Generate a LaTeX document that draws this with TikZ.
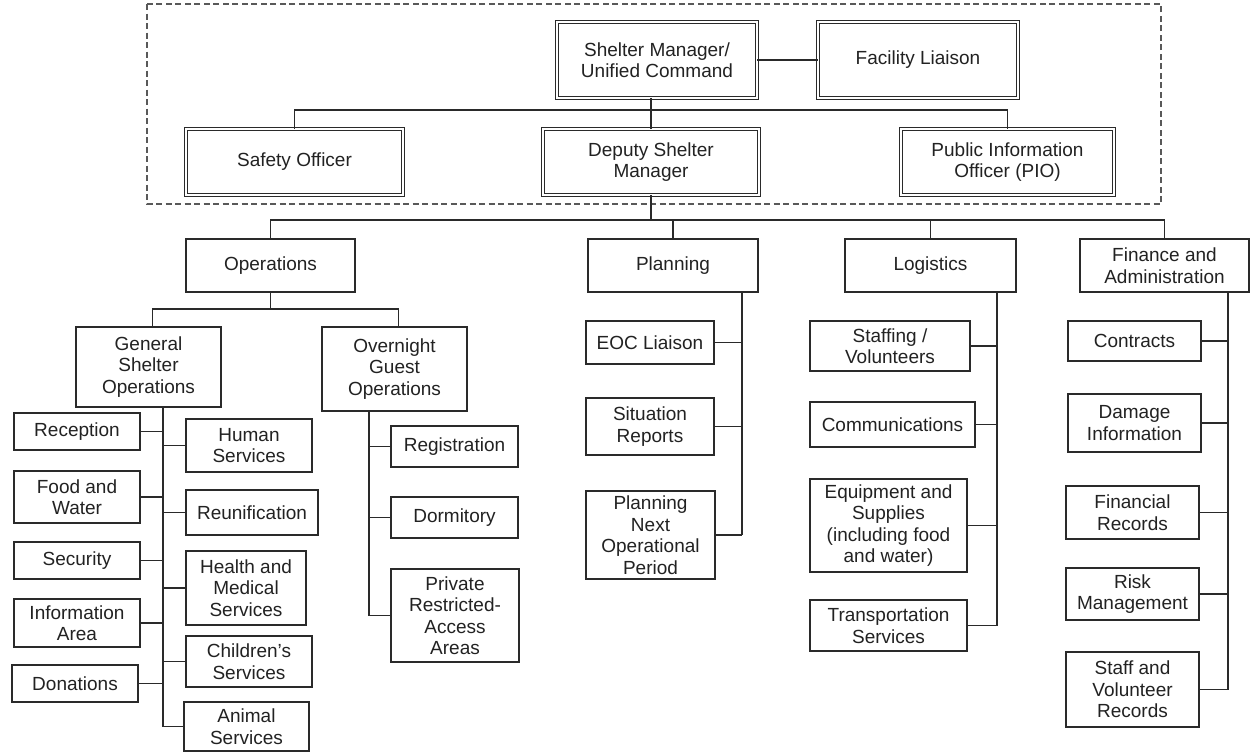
\documentclass[tikz,border=0pt]{standalone}
\usepackage{fontspec}
\setmainfont{Liberation Sans}
\usetikzlibrary{calc}
\definecolor{ln}{HTML}{2A2A2A}
\definecolor{tx}{HTML}{222222}
\newcommand\orgbox[6][]{\node[box,#1,minimum width=#4pt,minimum height=#5pt] (#2) at (#3) {#6};}
\begin{document}
\begin{tikzpicture}[x=1pt,y=-1pt,
  box/.style={draw=ln, line width=1.3pt, fill=white, align=center, inner sep=0pt, outer sep=0pt,
    text=tx, font=\fontsize{19}{21.5}\selectfont},
  dbl/.style={double=white, double distance=2.4pt, line width=1.1pt},
  conn/.style={draw=ln, line width=1.7pt},
  frame/.style={draw=black!65, line width=1.2pt, dash pattern=on 6pt off 3.5pt}]
\useasboundingbox (0,0) rectangle (1255,753);
\draw[frame] (147,4) rectangle (1161,204);
% top level
\orgbox[dbl]{sm}{657,60}{200}{76}{Shelter Manager/\\Unified Command}
\orgbox[dbl]{fl}{918,60}{200}{76}{Facility Liaison}
\orgbox[dbl]{so}{294.5,162}{217}{66}{Safety Officer}
\orgbox[dbl]{dep}{651,162}{216}{66}{Deputy Shelter\\Manager}
\orgbox[dbl]{pio}{1007.5,162}{213}{66}{Public Information\\Officer (PIO)}
\coordinate (busA) at (651,110);
\coordinate (busB) at (651,220);
\draw[conn] (sm.east) -- (fl.west);
\draw[conn] (dep.north) -- (dep.north |- sm.south);
\draw[conn] (so.north) |- (busA) -| (pio.north);
% sections
\orgbox{ops}{270.5,265.5}{169}{53}{Operations}
\orgbox{plan}{673,265.5}{170}{53}{Planning}
\orgbox{log}{930.5,265.5}{171}{53}{Logistics}
\orgbox{fin}{1164.5,265.5}{169}{53}{Finance and\\Administration}
\draw[conn] (dep.south) -- (busB);
\draw[conn] (ops.north) |- (busB) -| (fin.north);
\draw[conn] (plan.north) -- (plan.north |- busB);
\draw[conn] (log.north) -- (log.north |- busB);
% operations
\orgbox{gen}{148.5,367}{145}{80}{General\\Shelter\\Operations}
\orgbox{ovn}{394.5,369}{145}{84}{Overnight\\Guest\\Operations}
\coordinate (opsbus) at (270.5,309);
\draw[conn] (ops.south) -- (opsbus);
\draw[conn] ([xshift=4pt]gen.north) |- (opsbus) -| ([xshift=4pt]ovn.north);
\orgbox{rec}{77,431.5}{126}{37}{Reception}
\orgbox{food}{77,497}{126}{52}{Food and\\Water}
\orgbox{sec}{77,560.5}{126}{37}{Security}
\orgbox{info}{77,623}{126}{48}{Information\\Area}
\orgbox{don}{75,683.5}{126}{37}{Donations}
\orgbox{hum}{249,445.5}{126}{53}{Human\\Services}
\orgbox{reu}{252,512.5}{132}{45}{Reunification}
\orgbox{hlth}{246,588}{120}{74}{Health and\\Medical\\Services}
\orgbox{chld}{249,661.5}{126}{51}{Children’s\\Services}
\orgbox{anim}{246.5,726.5}{125}{49}{Animal\\Services}
\coordinate (gv) at (163,0);
\draw[conn] (gen.south -| gv) -- (anim.west -| gv);
\foreach \n in {rec,food,sec,info,don} \draw[conn] (\n.east) -- (\n.east -| gv);
\foreach \n in {hum,reu,hlth,chld,anim} \draw[conn] (\n.west) -- (\n.west -| gv);
\orgbox{reg}{454.5,446.5}{127}{41}{Registration}
\orgbox{dorm}{454.5,517.5}{127}{41}{Dormitory}
\orgbox{priv}{455,615.5}{128}{93}{Private\\Restricted-\\Access\\Areas}
\coordinate (ov) at (369,0);
\draw[conn] (ovn.south -| ov) -- (priv.west -| ov);
\foreach \n in {reg,dorm,priv} \draw[conn] (\n.west) -- (\n.west -| ov);
% planning
\orgbox{eoc}{650,342.5}{128}{43}{EOC Liaison}
\orgbox{sit}{650,426.5}{128}{57}{Situation\\Reports}
\orgbox{pnop}{650.5,535}{129}{88}{Planning\\Next\\Operational\\Period}
\coordinate (pv) at (742,0);
\draw[conn] (plan.south -| pv) -- (pnop.east -| pv);
\foreach \n in {eoc,sit,pnop} \draw[conn] (\n.east) -- (\n.east -| pv);
% logistics
\orgbox{staff}{890,346}{160}{50}{Staffing /\\Volunteers}
\orgbox{comm}{892.5,424.5}{165}{45}{Communications}
\orgbox{equip}{888.5,525.5}{157}{93}{Equipment and\\Supplies\\(including food\\and water)}
\orgbox{trans}{888.5,625.5}{157}{51}{Transportation\\Services}
\coordinate (lv) at (997,0);
\draw[conn] (log.south -| lv) -- (trans.east -| lv);
\foreach \n in {staff,comm,equip,trans} \draw[conn] (\n.east) -- (\n.east -| lv);
% finance
\orgbox{contr}{1134.5,341}{133}{40}{Contracts}
\orgbox{dmg}{1134.5,423}{133}{58}{Damage\\Information}
\orgbox{finrec}{1132.5,512.5}{133}{53}{Financial\\Records}
\orgbox{risk}{1132.5,594}{133}{52}{Risk\\Management}
\orgbox{srec}{1132.5,689.5}{133}{75}{Staff and\\Volunteer\\Records}
\coordinate (fv) at (1228,0);
\draw[conn] (fin.south -| fv) -- (srec.east -| fv);
\foreach \n in {contr,dmg,finrec,risk,srec} \draw[conn] (\n.east) -- (\n.east -| fv);
\end{tikzpicture}
\end{document}
